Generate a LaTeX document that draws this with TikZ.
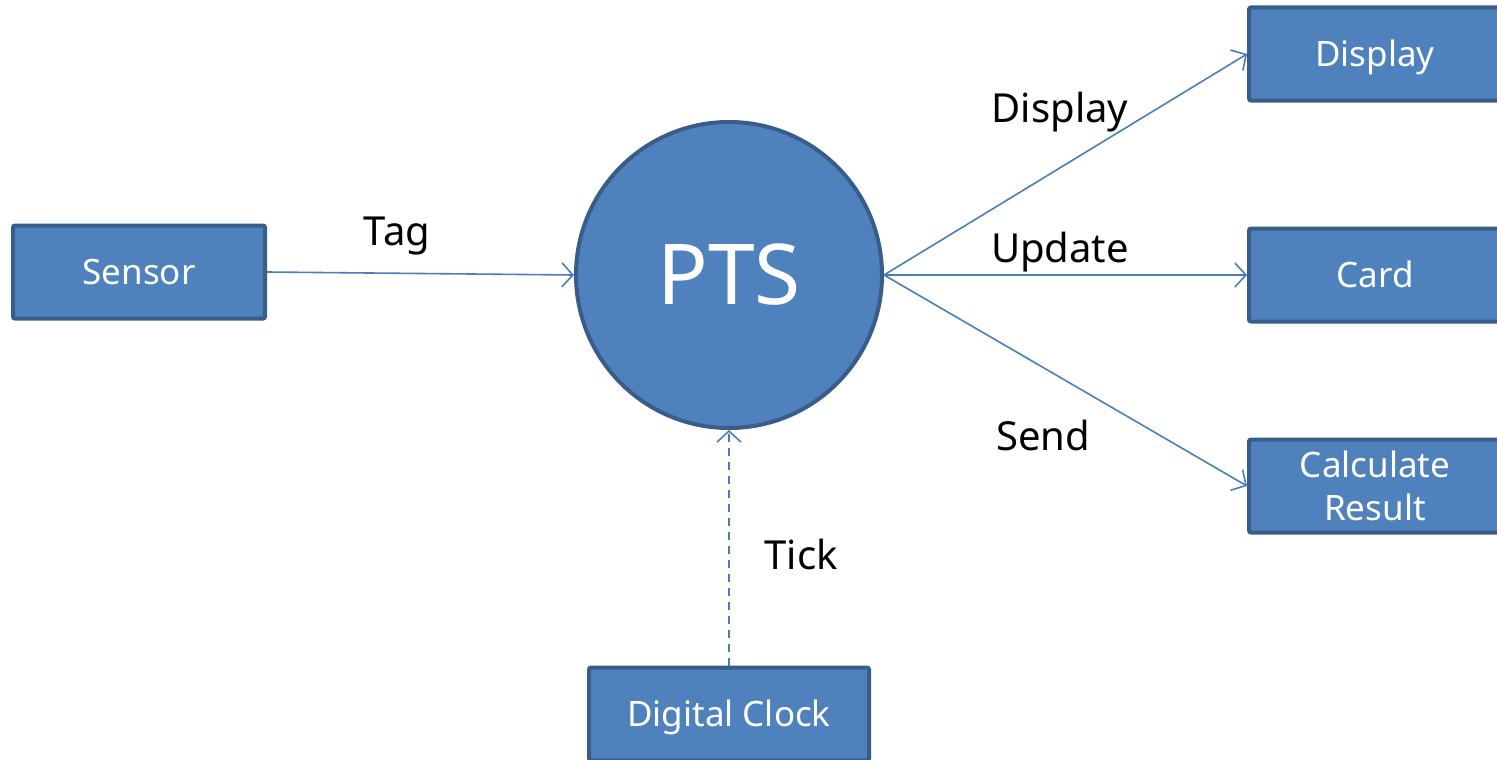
\documentclass[tikz,border=0pt]{standalone}
\usepackage{fontspec}
\setmainfont{Noto Sans}
\usetikzlibrary{arrows.meta}
\definecolor{boxfill}{HTML}{4F81BD}
\definecolor{boxdraw}{HTML}{385D8A}
\definecolor{linecol}{HTML}{4A7EBB}
\tikzset{
  ent/.style={draw=boxdraw, fill=boxfill, line width=4pt, rounded corners=2pt, minimum width=252pt, minimum height=93pt, inner sep=0pt, text=white, font=\fontsize{35}{38}\selectfont, align=center},
  oneline/.style={text height=30pt, text depth=5pt},
  proc/.style={circle, draw=boxdraw, fill=boxfill, line width=4pt, minimum size=306pt, inner sep=0pt, text=white, font=\fontsize{84}{90}\selectfont},
  flow/.style={draw=linecol, line width=1.6pt, -{Straight Barb[length=11pt, width=24pt, line width=1.6pt]}},
  lbl/.style={font=\fontsize{40}{44}\selectfont, text=black, inner sep=0pt}
}
\begin{document}
\begin{tikzpicture}[x=1pt, y=-1pt]
\useasboundingbox (0,0) rectangle (1497,760);
\fill[white] (0,0) rectangle (1497,760);
\node[ent, oneline] (sensor) at (139,272) {Sensor};
\node[proc] (pts) at (729,275) {PTS};
\node[ent, oneline] (disp) at (1375,54) {Display};
\node[ent, oneline] (card) at (1375,275) {Card};
\node[ent, font=\fontsize{35}{43}\selectfont] (calc) at (1375,486) {Calculate\\Result};
\node[ent, oneline, minimum width=280pt] (clock) at (729,714) {Digital Clock};
\draw[flow] (sensor.east) -- (pts.west);
\draw[flow] (pts.east) -- (disp.west);
\draw[flow] (pts.east) -- (card.west);
\draw[flow] (pts.east) -- (calc.west);
\draw[flow, dashed, dash pattern=on 8pt off 6pt] (clock.north) -- (pts.south);
\node[lbl] (ltag) at (397,236) {Tag};
\node[lbl] (ldisp) at (1060,112) {Display};
\node[lbl] (lupd) at (1060,252) {Update};
\node[lbl] (lsend) at (1043,435) {Send};
\node[lbl] (ltick) at (801,554) {Tick};
\end{tikzpicture}
\end{document}
